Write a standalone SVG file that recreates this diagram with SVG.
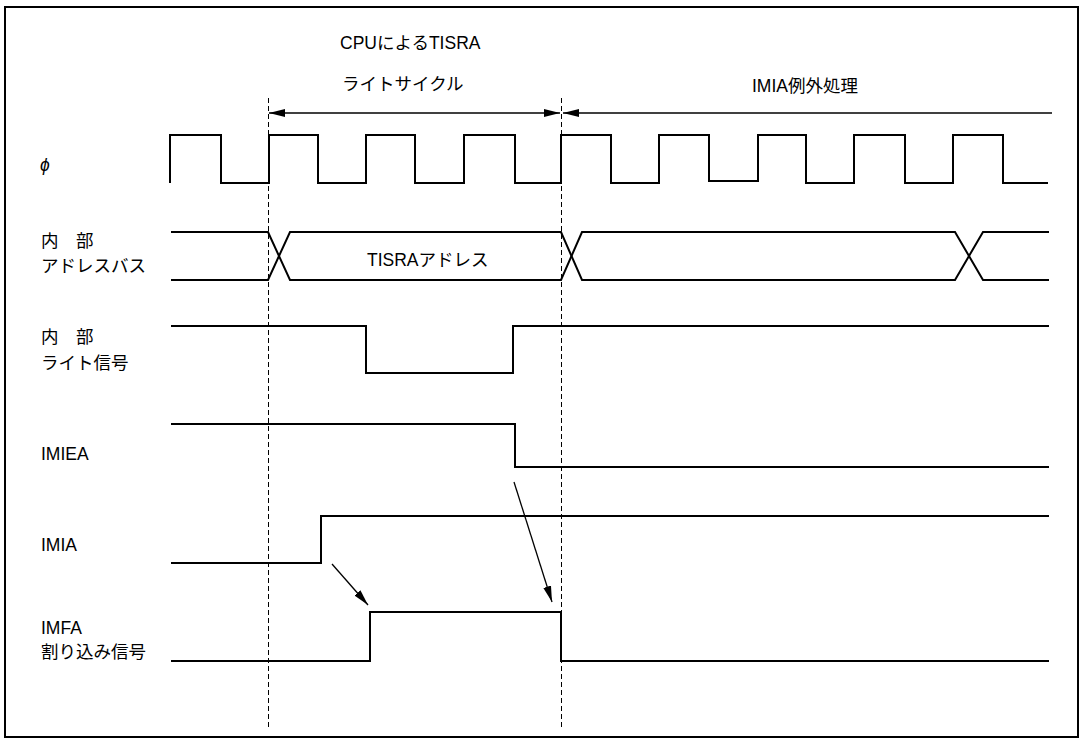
<svg xmlns="http://www.w3.org/2000/svg" width="1088" height="744" viewBox="0 0 1088 744">
<style>
  text { font-family: "Liberation Sans", "Noto Sans CJK JP", sans-serif; font-size: 17.5px; fill: #000; }
  .sig { fill: none; stroke: #000; stroke-width: 2; stroke-linejoin: miter; }
  .dash { fill: none; stroke: #000; stroke-width: 1; stroke-dasharray: 5 3; }
  .arr { fill: none; stroke: #000; stroke-width: 1.3; }
</style>
<defs>
  <marker id="ah" viewBox="0 0 16 10" refX="16" refY="5" markerWidth="16" markerHeight="10" markerUnits="userSpaceOnUse" orient="auto">
    <path d="M0,1 L16,5 L0,9 Z" fill="#000"/>
  </marker>
  <marker id="ahs" viewBox="0 0 16 10" refX="16" refY="5" markerWidth="16" markerHeight="10" markerUnits="userSpaceOnUse" orient="auto-start-reverse">
    <path d="M0,1 L16,5 L0,9 Z" fill="#000"/>
  </marker>
</defs>
<rect x="0" y="0" width="1088" height="744" fill="#fff"/>
<rect id="frame" x="5" y="7" width="1073" height="730" fill="none" stroke="#000" stroke-width="2"/>

<g id="header">
  <text x="340" y="49">CPUによるTISRA</text>
  <text x="342" y="90">ライトサイクル</text>
  <text x="752" y="92">IMIA例外処理</text>
</g>

<g id="clock">
  <text x="40" y="171" font-style="italic" font-family="DejaVu Sans, sans-serif" font-size="17">ϕ</text>
  <path class="sig" d="M170,183 V135 H221 V183 H269 V135 H318 V183 H366 V135 H415 V183 H464 V135 H515 V183 H561 V135 H611 V183 H659 V135 H709 V181 H758 V135 H806 V183 H854 V135 H905 V183 H953 V135 H1003 V183 H1048"/>
</g>

<g id="address-bus">
  <text x="41" y="247">内　部</text>
  <text x="41" y="272">アドレスバス</text>
  <path class="sig" d="M171,232 H268 L290,280 H561 L582,232 H955 L983,280 H1049"/>
  <path class="sig" d="M171,280 H268 L290,232 H561 L582,280 H955 L983,232 H1049"/>
  <text x="367" y="266">TISRAアドレス</text>
</g>

<g id="write-signal">
  <text x="41" y="343">内　部</text>
  <text x="41" y="369">ライト信号</text>
  <path class="sig" d="M171,326 H366 V373 H513 V326 H1049"/>
</g>

<g id="imiea">
  <text x="41" y="460">IMIEA</text>
  <path class="sig" d="M171,424 H515 V467 H1049"/>
</g>

<g id="imia">
  <text x="41" y="551">IMIA</text>
  <path class="sig" d="M171,563 H321 V516 H1049"/>
</g>

<g id="imfa">
  <text x="41" y="634">IMFA</text>
  <text x="41" y="658">割り込み信号</text>
  <path class="sig" d="M171,661 H370 V612 H561 V661 H1049"/>
</g>

<g id="connectors">
  <line class="dash" x1="268.5" y1="98" x2="268.5" y2="730"/>
  <line class="dash" x1="561.5" y1="98" x2="561.5" y2="730"/>
  <line class="arr" x1="269" y1="113" x2="560" y2="113" marker-start="url(#ahs)" marker-end="url(#ah)"/>
  <line class="arr" x1="1052" y1="113" x2="563" y2="113" marker-end="url(#ah)"/>
  <line class="arr" x1="332" y1="564" x2="368" y2="605" marker-end="url(#ah)"/>
  <line class="arr" x1="514" y1="482" x2="552" y2="602" marker-end="url(#ah)"/>
</g>
</svg>
